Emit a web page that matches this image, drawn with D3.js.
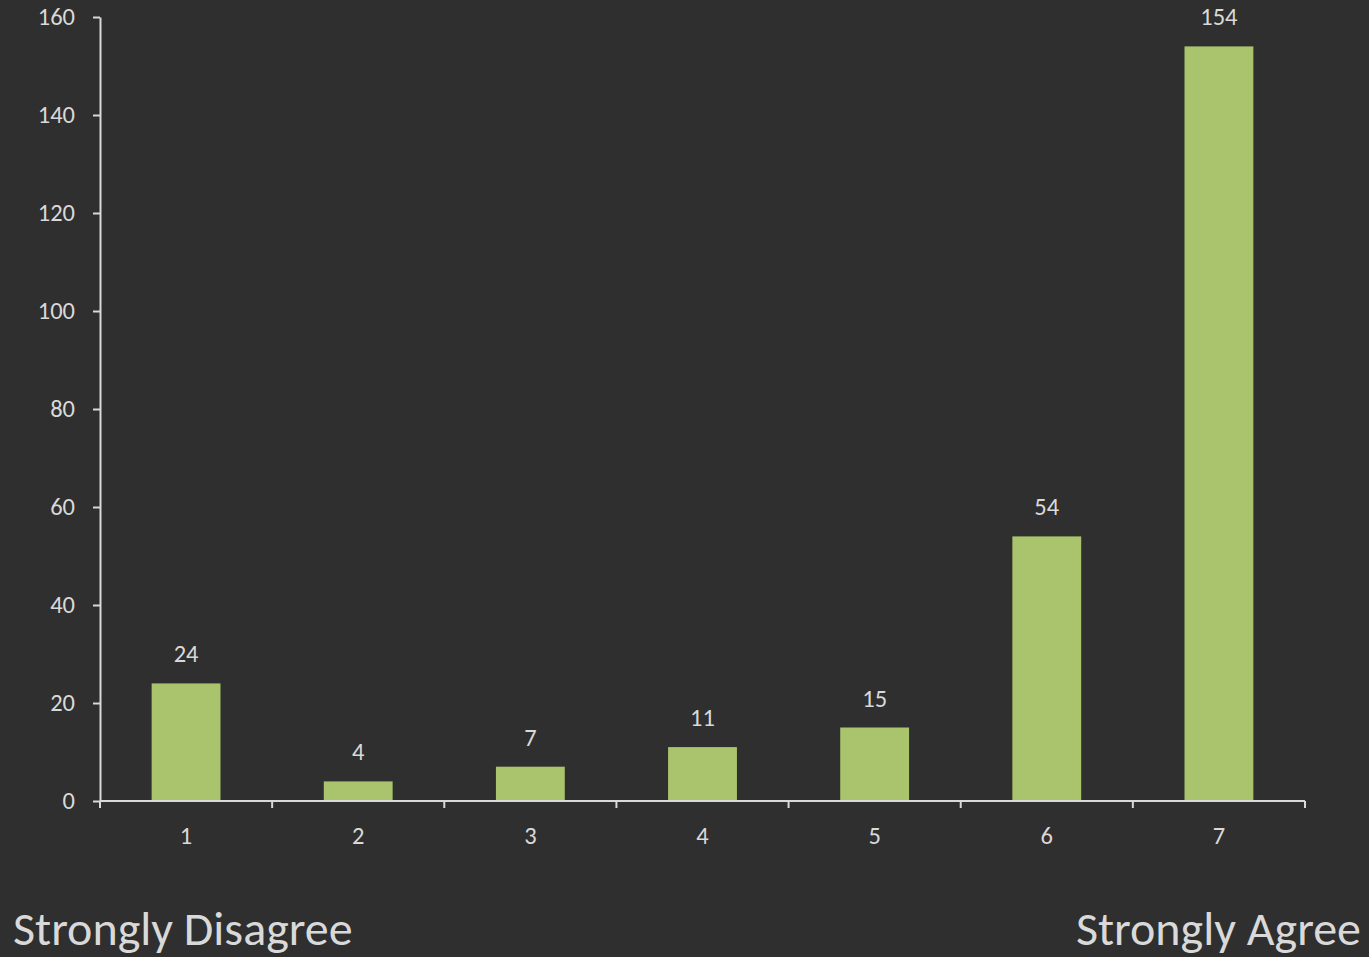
<!DOCTYPE html>
<html>
<head>
<meta charset="utf-8">
<script src="https://cdn.jsdelivr.net/npm/d3@7"></script>
<style>
  html, body { margin: 0; padding: 0; background: #2f2f2f; }
  svg { display: block; }
</style>
</head>
<body>
<svg id="chart"></svg>
<script>
const categories = ["1", "2", "3", "4", "5", "6", "7"];
const counts = [24, 4, 7, 11, 15, 54, 154];
const yTicks = [0, 20, 40, 60, 80, 100, 120, 140, 160];
const endLabels = ["Strongly Disagree", "Strongly Agree"];

const svgWidth = 1369, svgHeight = 957;
const margin = { top: 17, right: 64, bottom: 156, left: 100 };
const width = svgWidth - margin.left - margin.right;
const height = svgHeight - margin.top - margin.bottom;
const textColor = "#d9d9d9";
const fontFamily = "Carlito, Calibri, 'Open Sans', sans-serif";
const labelSize = "24.5px";

const svg = d3.select("#chart")
  .attr("width", svgWidth)
  .attr("height", svgHeight)
  .style("background", "#2f2f2f");

const g = svg.append("g")
  .attr("transform", `translate(${margin.left},${margin.top})`);

// band scale: ticks fall on category boundaries, bars centred in each band
const xs = d3.scaleBand().domain(categories).range([0, width])
  .paddingInner(0.6).paddingOuter(0.3);
const ys = d3.scaleLinear().domain([0, 160]).range([height, 0]);

// y axis
const yAxis = g.append("g")
  .call(d3.axisLeft(ys).tickValues(yTicks).tickSize(7).tickSizeOuter(0).tickPadding(18));
yAxis.select(".domain").attr("stroke", textColor).attr("stroke-width", 2);
yAxis.selectAll(".tick line").attr("stroke", textColor).attr("stroke-width", 2);
yAxis.selectAll(".tick text")
  .attr("fill", textColor)
  .style("font-family", fontFamily)
  .style("font-size", labelSize);

// x axis: line plus boundary ticks
const step = xs.step();
const xAxisG = g.append("g").attr("transform", `translate(0,${height})`);
xAxisG.append("line")
  .attr("x1", 0).attr("x2", width)
  .attr("stroke", textColor).attr("stroke-width", 2);
xAxisG.selectAll(".bound")
  .data(d3.range(categories.length + 1))
  .join("line")
  .attr("class", "bound")
  .attr("x1", i => i * step).attr("x2", i => i * step)
  .attr("y1", 0).attr("y2", 7)
  .attr("stroke", textColor).attr("stroke-width", 2);
xAxisG.selectAll(".xlab")
  .data(categories)
  .join("text")
  .attr("class", "xlab")
  .attr("x", d => xs(d) + xs.bandwidth() / 2)
  .attr("y", 43)
  .attr("text-anchor", "middle")
  .attr("fill", textColor)
  .style("font-family", fontFamily)
  .style("font-size", labelSize)
  .text(d => d);

// bars
g.selectAll(".bar")
  .data(categories)
  .join("rect")
  .attr("class", "bar")
  .attr("x", d => xs(d))
  .attr("y", (d, i) => ys(counts[i]))
  .attr("width", xs.bandwidth())
  .attr("height", (d, i) => ys(0) - ys(counts[i]) - 1)
  .attr("fill", "#aac46d");

// value labels
g.selectAll(".val")
  .data(categories)
  .join("text")
  .attr("class", "val")
  .attr("x", d => xs(d) + xs.bandwidth() / 2)
  .attr("y", (d, i) => ys(counts[i]) - 21)
  .attr("text-anchor", "middle")
  .attr("fill", textColor)
  .style("font-family", fontFamily)
  .style("font-size", labelSize)
  .text((d, i) => counts[i]);

// end labels
svg.append("text")
  .attr("x", 13).attr("y", 945)
  .attr("fill", textColor)
  .style("font-family", fontFamily)
  .style("font-size", "48px")
  .text(endLabels[0]);
svg.append("text")
  .attr("x", 1361).attr("y", 945)
  .attr("text-anchor", "end")
  .attr("fill", textColor)
  .style("font-family", fontFamily)
  .style("font-size", "48px")
  .text(endLabels[1]);
</script>
</body>
</html>
